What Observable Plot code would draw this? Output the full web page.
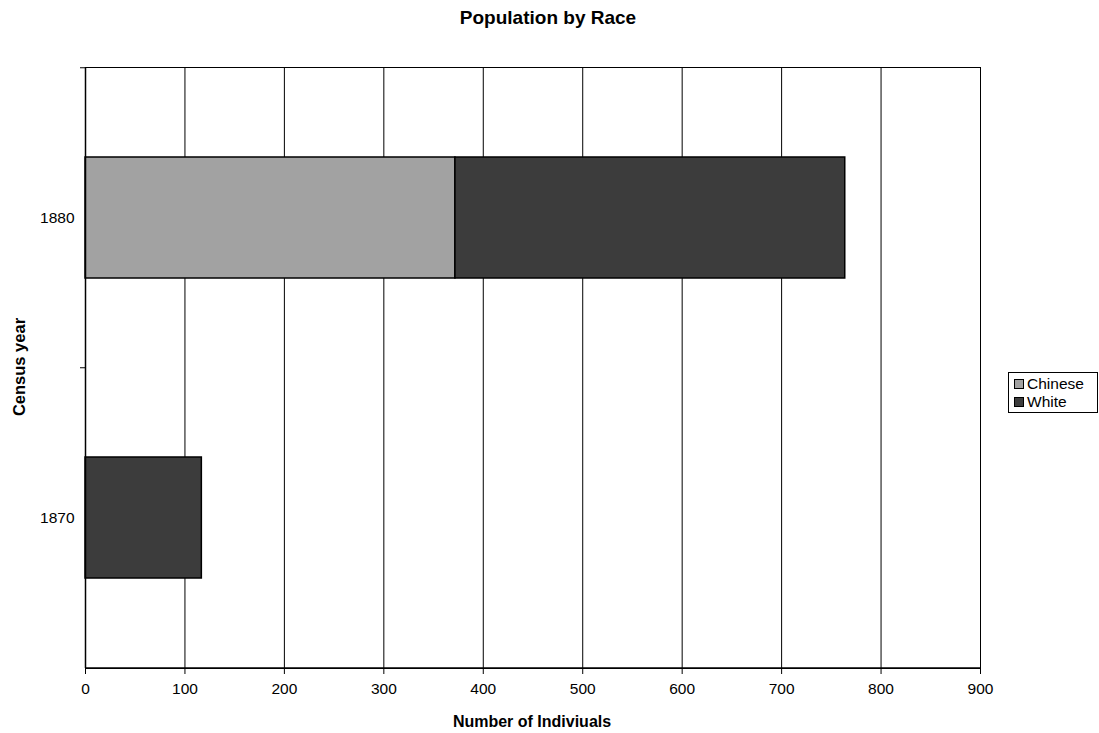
<!DOCTYPE html>
<html><head><meta charset="utf-8">
<script src="https://cdn.jsdelivr.net/npm/d3@7"></script>
<script src="https://cdn.jsdelivr.net/npm/@observablehq/plot@0.6"></script>
<style>
body{margin:0;background:#fff;font-family:"Liberation Sans",Arial,sans-serif;}
#wrap{position:relative;width:1099px;height:733px;}
#title{position:absolute;left:0;width:1096px;top:7px;text-align:center;font-weight:bold;font-size:19px;color:#000;}
#legend{position:absolute;left:1008px;top:372px;width:90px;height:41px;border:1px solid #000;box-sizing:border-box;font-size:15.5px;padding:2px 0 0 5px;}
.li{display:flex;align-items:center;height:18px;}
.sw{width:10px;height:10px;border:1px solid #000;margin-right:3px;box-sizing:border-box;}
</style></head>
<body><div id="wrap"><div id="title">Population by Race</div><div id="chart"></div>
<div id="legend"></div></div>
<script>
const years = ["1880", "1870"];
const races = ["Chinese", "White"];
const chinese = [372, 0];
const white = [392, 117];
const colors = ["#a2a2a2", "#3c3c3c"];
const xTicks = [0, 100, 200, 300, 400, 500, 600, 700, 800, 900];

const rows = [];
years.forEach((y, i) => {
  rows.push({year: y, race: "Chinese", value: chinese[i]});
  rows.push({year: y, race: "White", value: white[i]});
});
const data = rows.filter(d => d.value > 0);

const chart = Plot.plot({
  width: 1099, height: 733,
  marginLeft: 85, marginRight: 119, marginTop: 67, marginBottom: 65,
  style: {fontFamily: "'Liberation Sans', Arial, sans-serif", fontSize: "15.5px", color: "#000", background: "#fff"},
  x: {domain: [0, 900], ticks: xTicks},
  y: {domain: years, paddingInner: 0.597, paddingOuter: 0.2985},
  color: {domain: races, range: colors},
  marks: [
    Plot.gridX(xTicks, {stroke: "#000", strokeOpacity: 1, strokeWidth: 1}),
    Plot.frame({stroke: "#000"}),
    Plot.barX(data, Plot.stackX({x: "value", y: "year", fill: "race", order: races, stroke: "#000", strokeWidth: 1.5})),
    Plot.axisX({ticks: xTicks, tickSize: 6, tickPadding: 8, label: null, fontSize: 15.5}),
    Plot.axisY({tickSize: 0, tickPadding: 11, label: null, fontSize: 15.5}),
    Plot.axisY({tickSize: 5, text: null, dy: -150.25, label: null}),
    Plot.ruleX([0], {stroke: "#000", strokeWidth: 1.5})
  ]
});
document.getElementById("chart").appendChild(chart);

const svg = d3.select(chart);
svg.append("text").attr("x", 532).attr("y", 727)
  .attr("text-anchor", "middle").attr("font-weight", "bold").attr("font-size", 16)
  .attr("fill", "#000").text("Number of Indiviuals");
svg.append("text").attr("transform", "translate(25,367) rotate(-90)")
  .attr("text-anchor", "middle").attr("font-weight", "bold").attr("font-size", 16.5)
  .attr("fill", "#000").text("Census year");
svg.append("line").attr("x1", 85).attr("x2", 980).attr("y1", 668).attr("y2", 668)
  .attr("stroke", "#000").attr("stroke-width", 1.5);

const leg = document.getElementById("legend");
races.forEach((r, i) => {
  const d = document.createElement("div"); d.className = "li";
  const s = document.createElement("div"); s.className = "sw"; s.style.background = colors[i];
  d.appendChild(s); d.appendChild(document.createTextNode(r)); leg.appendChild(d);
});
</script></body></html>
